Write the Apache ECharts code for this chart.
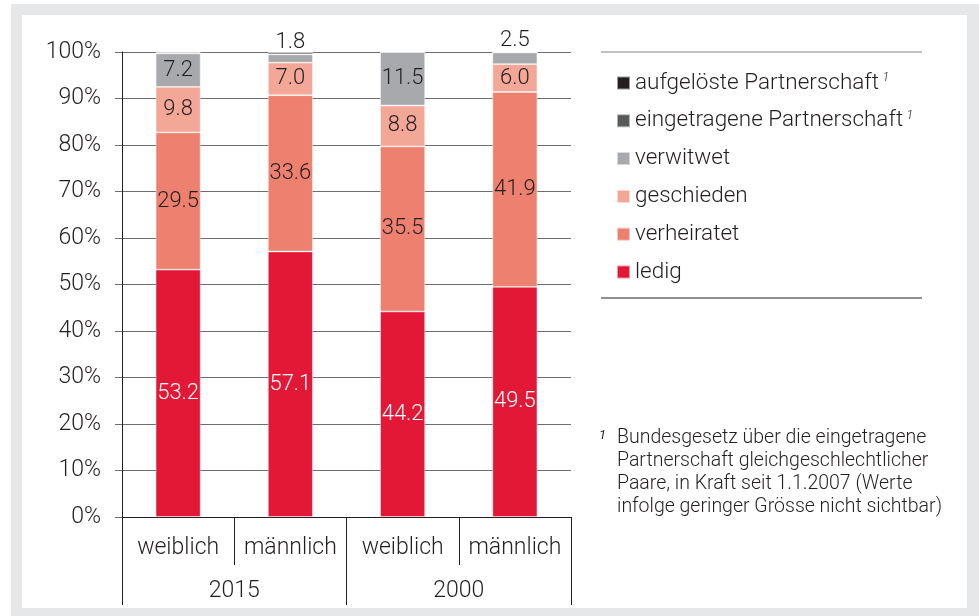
<!DOCTYPE html>
<html>
<head>
<meta charset="utf-8">
<script src="https://cdn.jsdelivr.net/npm/echarts@6/dist/echarts.min.js"></script>
<style>
  html, body { margin: 0; padding: 0; background: #fff; }
  #frame { position: absolute; left: 11px; top: 4px; width: 968px; height: 612px; background: #e6e7e9; }
  #panel { position: absolute; left: 22px; top: 15px; width: 945px; height: 593px; background: #fff; }
  #main { position: absolute; left: 0; top: 0; width: 979px; height: 616px; }
</style>
</head>
<body>
<div id="frame"></div>
<div id="panel"></div>
<div id="main"></div>
<script>
// Zivilstand nach Geschlecht, Anteile in %
const sexes = ['weiblich', 'männlich', 'weiblich', 'männlich'];
const years = ['2015', '2000'];
const yTicks = [0, 100, 10];

const ledig = [53.2, 57.1, 44.2, 49.5];
const verheiratet = [29.5, 33.6, 35.5, 41.9];
const geschieden = [9.8, 7.0, 8.8, 6.0];
const verwitwet = [7.2, 1.8, 11.5, 2.5];
const eingetragen = [0.2, 0.4, 0, 0];   // nicht sichtbar
const aufgeloest = [0.1, 0.1, 0, 0];    // nicht sichtbar

const footnote = [
  'Bundesgesetz über die eingetragene',
  'Partnerschaft gleichgeschlechtlicher',
  'Paare, in Kraft seit 1.1.2007 (Werte',
  'infolge geringer Grösse nicht sichtbar)'
];

const FONT = 'Roboto';
const TXT = '#231f20';

const chart = echarts.init(document.getElementById('main'), null, { renderer: 'canvas' });

function barSeries(name, data, color, labelColor, topIdx) {
  return {
    name: name,
    type: 'bar',
    stack: 'total',
    barWidth: 45,
    itemStyle: { color: color, borderColor: 'rgba(255,255,255,0.55)', borderWidth: 0.8 },
    label: {
      show: labelColor != null,
      position: 'inside',
      color: labelColor || TXT,
      fontFamily: FONT,
      fontWeight: 300,
      fontSize: 22,
      formatter: p => p.value.toFixed(1)
    },
    data: data.map((v, i) => (topIdx && topIdx.indexOf(i) >= 0)
      ? { value: v, label: { position: 'top', distance: 1 } }
      : v)
  };
}

const legendNames = ['aufgelöste Partnerschaft', 'eingetragene Partnerschaft', 'verwitwet', 'geschieden', 'verheiratet', 'ledig'];

chart.setOption({
  animation: false,
  textStyle: { fontFamily: FONT, color: TXT },
  grid: { left: 122, right: 408, top: 52, bottom: 99 },
  xAxis: [
    {
      type: 'category',
      data: sexes,
      axisLine: { lineStyle: { color: '#231f20', width: 1 } },
      axisTick: { show: true, interval: 0, length: 48, lineStyle: { color: '#231f20' } },
      axisLabel: { interval: 0, margin: 20, fontSize: 23, fontWeight: 300, color: TXT, fontFamily: FONT }
    },
    {
      type: 'category',
      data: years,
      position: 'bottom',
      offset: 48,
      axisLine: { show: false },
      axisTick: { show: true, interval: 0, length: 40, lineStyle: { color: '#231f20' } },
      axisLabel: { interval: 0, margin: 15, fontSize: 23, fontWeight: 300, color: TXT, fontFamily: FONT }
    }
  ],
  yAxis: {
    type: 'value',
    min: yTicks[0],
    max: yTicks[1],
    interval: yTicks[2],
    axisLine: { show: true, lineStyle: { color: '#231f20' } },
    axisTick: { show: true, length: 7, lineStyle: { color: '#6d6e71' } },
    splitLine: { lineStyle: { color: '#6d6e71', width: 1 } },
    axisLabel: { formatter: '{value}%', margin: 21, fontSize: 23, fontWeight: 300, color: TXT, fontFamily: FONT }
  },
  legend: {
    orient: 'vertical',
    left: 611,
    top: 66,
    itemWidth: 13,
    itemHeight: 13,
    itemGap: 13.8,
    icon: 'rect',
    data: legendNames,
    selectedMode: false,
    formatter: n => n.indexOf('Partnerschaft') >= 0 ? n + '{sup| 1}' : n,
    textStyle: {
      fontFamily: FONT, fontWeight: 300, fontSize: 22.5, lineHeight: 24, color: TXT,
      rich: { sup: { fontSize: 13, fontStyle: 'italic', verticalAlign: 'top', lineHeight: 13, padding: [0, 0, 10, 0], color: TXT, fontFamily: FONT } }
    }
  },
  graphic: [
    { type: 'line', shape: { x1: 601, y1: 52, x2: 922, y2: 52 }, style: { stroke: '#808184', lineWidth: 1 } },
    { type: 'line', shape: { x1: 601, y1: 298, x2: 922, y2: 298 }, style: { stroke: '#231f20', lineWidth: 1 } },
    { type: 'text', left: 599, top: 429, style: { text: '1', fontSize: 13, fontStyle: 'italic', fill: TXT, fontFamily: FONT } },
    { type: 'text', left: 617, top: 427, style: { text: footnote.join('\n'), fontSize: 19.5, lineHeight: 23, fontWeight: 300, fill: TXT, fontFamily: FONT } }
  ],
  series: [
    barSeries('ledig', ledig, '#e31837', '#ffffff'),
    barSeries('verheiratet', verheiratet, '#ee8070', TXT),
    barSeries('geschieden', geschieden, '#f3a797', TXT),
    barSeries('verwitwet', verwitwet, '#a7a9ac', TXT, [1, 3]),
    barSeries('eingetragene Partnerschaft', eingetragen, '#58595b', null),
    barSeries('aufgelöste Partnerschaft', aufgeloest, '#231f20', null)
  ]
});
</script>
</body>
</html>
